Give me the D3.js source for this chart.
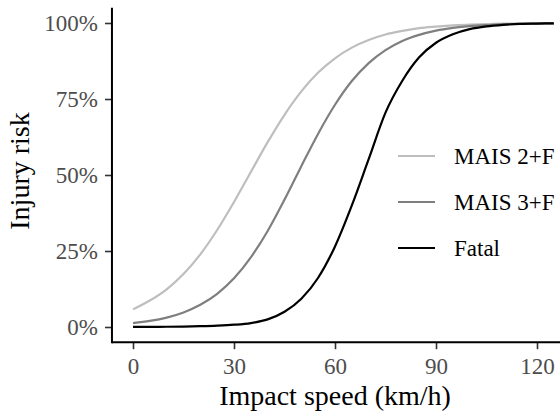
<!DOCTYPE html>
<html>
<head>
<meta charset="utf-8">
<script src="https://cdn.jsdelivr.net/npm/d3@7"></script>
<style>
  html, body { margin: 0; padding: 0; background: #fff; }
  svg { display: block; }
  svg text { font-family: "Liberation Serif", "DejaVu Serif", "Noto Serif", "Times New Roman", Times, serif !important; }
</style>
</head>
<body>
<svg id="chart" width="560" height="416"></svg>
<script>
// ---- data ----
const speed = [0,5,10,15,20,25,30,35,40,45,50,55,60,65,70,75,80,85,90,95,100,105,110,115,120,125];
const mais2 = [0.058,0.087,0.124,0.174,0.239,0.319,0.411,0.510,0.608,0.698,0.775,0.837,0.884,0.919,0.944,0.962,0.974,0.983,0.988,0.992,0.995,0.996,0.998,0.998,0.999,0.999];
const mais3 = [0.013,0.020,0.031,0.048,0.073,0.109,0.160,0.229,0.316,0.419,0.529,0.636,0.731,0.809,0.868,0.911,0.941,0.961,0.975,0.984,0.990,0.993,0.996,0.997,0.998,0.999];
const fatal = [0.0002,0.0004,0.0008,0.0015,0.0027,0.0045,0.0075,0.013,0.025,0.050,0.093,0.162,0.265,0.400,0.552,0.705,0.810,0.887,0.935,0.963,0.980,0.989,0.994,0.997,0.998,0.999];
const seriesNames = ["MAIS 2+F", "MAIS 3+F", "Fatal"];
const seriesColors = ["#bebebe", "#7f7f7f", "#000000"];
const xTicks = [0, 30, 60, 90, 120];
const yTicks = [0, 0.25, 0.5, 0.75, 1];
const xTitle = "Impact speed (km/h)";
const yTitle = "Injury risk";

const series = [mais2, mais3, fatal].map((vals, i) => ({
  name: seriesNames[i], color: seriesColors[i],
  pts: speed.map((s, j) => ({ s, v: vals[j] }))
}));

// ---- layout ----
const svg = d3.select("#chart");
const x = d3.scaleLinear().domain([0, 120]).range([133, 537]);
const y = d3.scaleLinear().domain([0, 1]).range([327, 23]);
const font = "Liberation Serif";

const xLeft = x(-6.25), yBottom = y(-0.05), yTop = y(1.05);

svg.append("clipPath").attr("id", "panel")
  .append("rect").attr("x", xLeft).attr("y", yTop).attr("width", 560 - xLeft).attr("height", yBottom - yTop);

const line = d3.line().x(d => x(d.s)).y(d => y(d.v)).curve(d3.curveMonotoneX);
svg.append("g").attr("clip-path", "url(#panel)")
  .selectAll("path").data(series).join("path")
  .attr("d", d => line(d.pts))
  .attr("fill", "none")
  .attr("stroke", d => d.color)
  .attr("stroke-width", 2.2);

const xAxis = d3.axisBottom(x).tickValues(xTicks).tickSize(7).tickPadding(8).tickFormat(d3.format("d"));
const gx = svg.append("g").attr("transform", `translate(0,${yBottom})`).call(xAxis);
const yAxis = d3.axisLeft(y).tickValues(yTicks).tickSize(7).tickPadding(7).tickFormat(d3.format(".0%"));
const gy = svg.append("g").attr("transform", `translate(${xLeft},0)`).call(yAxis);
[gx, gy].forEach(g => {
  g.attr("font-family", font).attr("font-size", 23);
  g.select(".domain").remove();
  g.selectAll(".tick line").attr("stroke", "#333").attr("stroke-width", 1.6);
  g.selectAll(".tick text").attr("fill", "#4d4d4d");
});
svg.append("line").attr("x1", xLeft).attr("x2", 560).attr("y1", yBottom).attr("y2", yBottom)
  .attr("stroke", "#000").attr("stroke-width", 2);
svg.append("line").attr("x1", xLeft).attr("x2", xLeft).attr("y1", yTop).attr("y2", yBottom + 1)
  .attr("stroke", "#000").attr("stroke-width", 2);

svg.append("text").attr("x", 335).attr("y", 405).attr("text-anchor", "middle")
  .attr("font-family", font).attr("font-size", 28).attr("fill", "#000").text(xTitle);
svg.append("text").attr("transform", "translate(29,171) rotate(-90)").attr("text-anchor", "middle")
  .attr("font-family", font).attr("font-size", 28).attr("fill", "#000").text(yTitle);

const lg = svg.append("g").selectAll("g").data(series).join("g")
  .attr("transform", (d, i) => `translate(398,${156 + i * 46})`);
lg.append("line").attr("x1", 0).attr("x2", 37).attr("y1", 0).attr("y2", 0)
  .attr("stroke", d => d.color).attr("stroke-width", 2.2);
lg.append("text").attr("x", 56).attr("y", 0).attr("dy", "0.35em")
  .attr("font-family", font).attr("font-size", 23).attr("fill", "#000").text(d => d.name);
</script>
</body>
</html>
